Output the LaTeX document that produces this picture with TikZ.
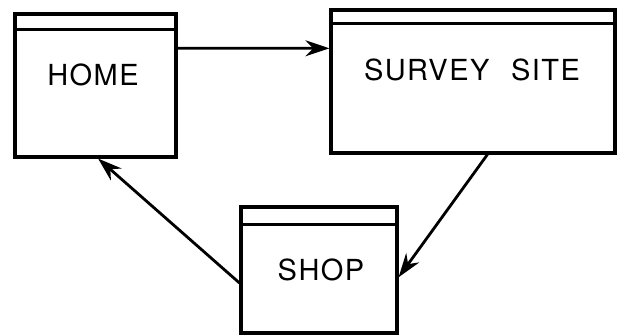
\documentclass[tikz,border=0pt]{standalone}
\usepackage{fontspec}
\setmainfont{TeX Gyre Heros}[LetterSpace=5]
\usetikzlibrary{arrows.meta,calc}
\begin{document}
\begin{tikzpicture}[x=0.5pt,y=-0.5pt,
  box/.style={draw,line width=1.6pt,rectangle,inner sep=0pt},
  bar/.style={line width=1.6pt},
  lbl/.style={font=\fontsize{14.5pt}{16pt}\selectfont,inner sep=0pt,anchor=center},
  conn/.style={line width=1.4pt,-{Stealth[length=12pt,width=8pt]}}]
\useasboundingbox (0,0) rectangle (625,335);
% boxes
\node[box,minimum width=80.5pt,minimum height=71.5pt] (home) at (95.5,85.5) {};
\node[box,minimum width=142pt,minimum height=71.5pt] (survey) at (473,81.5) {};
\node[box,minimum width=78pt,minimum height=63pt] (shop) at (319,270) {};
% title bars
\draw[bar] ($(home.north west)+(0,17)$) -- ($(home.north east)+(0,17)$);
\draw[bar] ($(survey.north west)+(0,15)$) -- ($(survey.north east)+(0,15)$);
\draw[bar] ($(shop.north west)+(0,19)$) -- ($(shop.north east)+(0,19)$);
% labels
\node[lbl] (homelbl) at (93,75) {HOME};
\node[lbl] (surveylbl) at (472,70) {SURVEY\hspace{0.75em}SITE};
\node[lbl] (shoplbl) at (321,270) {SHOP};
% connectors
\draw[conn] ($(home.north east)!0.245!(home.south east)$) -- ($(survey.north west)!0.273!(survey.south west)$);
\draw[conn] ($(survey.south west)!0.55!(survey.south east)$) -- ($(shop.north east)!0.556!(shop.south east)$);
\draw[conn] ($(shop.north west)!0.6!(shop.south west)$) -- ($(home.south west)!0.516!(home.south east)$);
\end{tikzpicture}
\end{document}
